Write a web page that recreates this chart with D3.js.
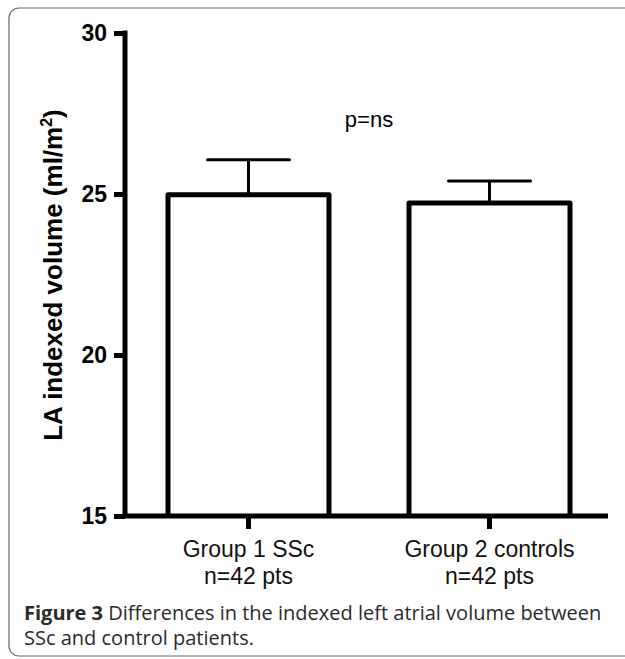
<!DOCTYPE html>
<html>
<head>
<meta charset="UTF-8">
<title>LA indexed volume</title>
<script src="https://d3js.org/d3.v7.min.js"></script>
<style>
  body { margin: 0; background: #fff; }
</style>
</head>
<body>
<div id="chart"></div>
<script>
// values
let groups = ["Group 1 SSc", "Group 2 controls"]
let groupN = ["n=42 pts", "n=42 pts"]
let means = [24.98, 24.72]
let errTop = [26.06, 25.40]
let yTicks = [15, 20, 25, 30]

let W = 625, H = 659
let svg = d3.select("#chart").append("svg").attr("width", W).attr("height", H)

// panel border
svg.append("rect").attr("x", 9).attr("y", 8).attr("width", 660).attr("height", 648)
  .attr("rx", 10).attr("fill", "none").attr("stroke", "#666").attr("stroke-width", 1.2)

let y = d3.scaleLinear().domain([15, 30]).range([516, 33])
let x = d3.scaleBand().domain(groups).range([128, 610]).paddingInner(0.332).paddingOuter(0.166)
let axX = 125

let g = svg.append("g")

// bars
g.selectAll(".bar").data(groups).enter().append("path")
  .attr("d", (d, i) => {
    let x0 = x(d), x1 = x(d) + x.bandwidth()
    return "M" + x0 + "," + y(15) + "V" + y(means[i]) + "H" + x1 + "V" + y(15)
  })
  .attr("fill", "none").attr("stroke", "#000").attr("stroke-width", 5)
  .attr("stroke-linejoin", "round")

// error bars (upper only)
groups.forEach((d, i) => {
  let cx = x(d) + x.bandwidth() / 2
  g.append("line").attr("x1", cx).attr("x2", cx).attr("y1", y(means[i])).attr("y2", y(errTop[i]))
    .attr("stroke", "#000").attr("stroke-width", 3)
  g.append("line").attr("x1", cx - 41).attr("x2", cx + 41).attr("y1", y(errTop[i])).attr("y2", y(errTop[i]))
    .attr("stroke", "#000").attr("stroke-width", 3).attr("stroke-linecap", "round")
})

// y axis
let yAxis = g.append("g").attr("transform", "translate(" + axX + ",0)")
  .call(d3.axisLeft(y).tickValues(yTicks).tickSize(11).tickSizeOuter(0).tickPadding(7))
yAxis.select(".domain").attr("stroke-width", 5).attr("d", "M0," + (y(30) - 2.5) + "V" + y(15))
yAxis.selectAll(".tick line").attr("stroke-width", 5)
yAxis.selectAll("text").attr("font-family", "Liberation Sans, Arial, sans-serif")
  .attr("font-size", 23).attr("font-weight", "bold").attr("fill", "#000")

// x axis
let xAxis = g.append("g").attr("transform", "translate(0," + y(15) + ")")
  .call(d3.axisBottom(x).tickSize(13).tickSizeOuter(0).tickFormat(""))
xAxis.select(".domain").attr("stroke-width", 5).attr("d", "M" + (axX - 2.5) + ",0H608")
xAxis.selectAll(".tick line").attr("stroke-width", 5)

// category labels
groups.forEach((d, i) => {
  let cx = x(d) + x.bandwidth() / 2
  let t = svg.append("text").attr("x", cx).attr("text-anchor", "middle")
    .attr("font-family", "Liberation Sans, Arial, sans-serif").attr("font-size", 23).attr("fill", "#111")
  t.append("tspan").attr("x", cx).attr("y", 557).text(d)
  t.append("tspan").attr("x", cx).attr("y", 584).text(groupN[i])
})

// y label
svg.append("text").attr("transform", "translate(62,275) rotate(-90)").attr("text-anchor", "middle")
  .attr("font-family", "Liberation Sans, Arial, sans-serif").attr("font-size", 26).attr("font-weight", "bold")
  .html('LA indexed volume (ml/m<tspan dy="-10" font-size="16">2</tspan><tspan dy="10">)</tspan>')

// annotation
svg.append("text").attr("x", 369).attr("y", 127).attr("text-anchor", "middle")
  .attr("font-family", "Liberation Sans, Arial, sans-serif").attr("font-size", 22).text("p=ns")

// caption
let cap = svg.append("text").attr("font-family", "Open Sans, Noto Sans, sans-serif").attr("font-size", 20).attr("fill", "#2a2a2a")
let l1 = cap.append("tspan").attr("x", 24).attr("y", 620)
l1.append("tspan").attr("font-weight", "bold").text("Figure 3")
l1.append("tspan").text(" Differences in the indexed left atrial volume between")
cap.append("tspan").attr("x", 24).attr("y", 645).text("SSc and control patients.")
</script>
</body>
</html>
